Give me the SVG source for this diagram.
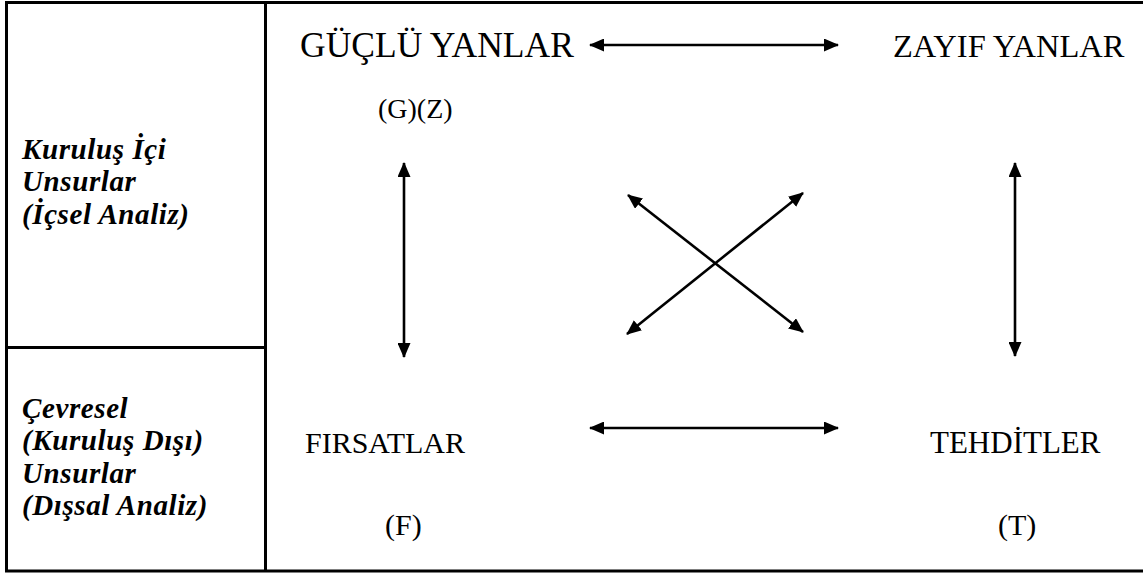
<svg xmlns="http://www.w3.org/2000/svg" width="1143" height="573" viewBox="0 0 1143 573">
<defs>
<marker id="ah" viewBox="0 0 15 13" refX="14" refY="6.5" markerWidth="15" markerHeight="13" markerUnits="userSpaceOnUse" orient="auto-start-reverse">
<path d="M0,0 L15,6.5 L0,13 Z" fill="#000"/>
</marker>
<style>
.frame{stroke:#000;stroke-width:3;fill:none}
.t{font-family:"Liberation Serif","Times New Roman",serif;font-size:30px;fill:#000}
.side{font-family:"Liberation Serif","Times New Roman",serif;font-size:29px;letter-spacing:0.6px;font-weight:bold;font-style:italic;fill:#000}
.c{stroke:#000;stroke-width:2.6;fill:none;marker-start:url(#ah);marker-end:url(#ah)}
</style>
</defs>
<rect width="1143" height="573" fill="#fff"/>
<g id="frame">
<path class="frame" d="M1143,2.5 H6.5 V571 H1143 M265.5,2.5 V571 M6.5,347.5 H265.5"/>
</g>
<g id="side-internal">
<text class="side" x="22" y="159">Kuruluş İçi</text>
<text class="side" x="22" y="191.3">Unsurlar</text>
<text class="side" x="22" y="223.6">(İçsel Analiz)</text>
</g>
<g id="side-external">
<text class="side" x="22" y="418">Çevresel</text>
<text class="side" x="22" y="450.3">(Kuruluş Dışı)</text>
<text class="side" x="22" y="482.6">Unsurlar</text>
<text class="side" x="22" y="514.9">(Dışsal Analiz)</text>
</g>
<g id="strengths">
<text class="t" x="300" y="57" style="font-size:35.5px">GÜÇLÜ YANLAR</text>
<text class="t" x="378" y="118" style="font-size:28px">(G)(Z)</text>
</g>
<g id="weaknesses">
<text class="t" x="893" y="57" style="font-size:32.5px">ZAYIF YANLAR</text>
</g>
<g id="opportunities">
<text class="t" x="305" y="453">FIRSATLAR</text>
<text class="t" x="385" y="535">(F)</text>
</g>
<g id="threats">
<text class="t" x="930" y="453" style="font-size:31px">TEHDİTLER</text>
<text class="t" x="998" y="535">(T)</text>
</g>
<g id="connectors">
<line class="c" x1="590" y1="45" x2="838" y2="45"/>
<line class="c" x1="590" y1="428" x2="838" y2="428"/>
<line class="c" x1="404" y1="163" x2="404" y2="357"/>
<line class="c" x1="1015" y1="163" x2="1015" y2="356"/>
<line class="c" x1="628" y1="195" x2="803" y2="332"/>
<line class="c" x1="803" y1="193" x2="627" y2="334"/>
</g>
</svg>
